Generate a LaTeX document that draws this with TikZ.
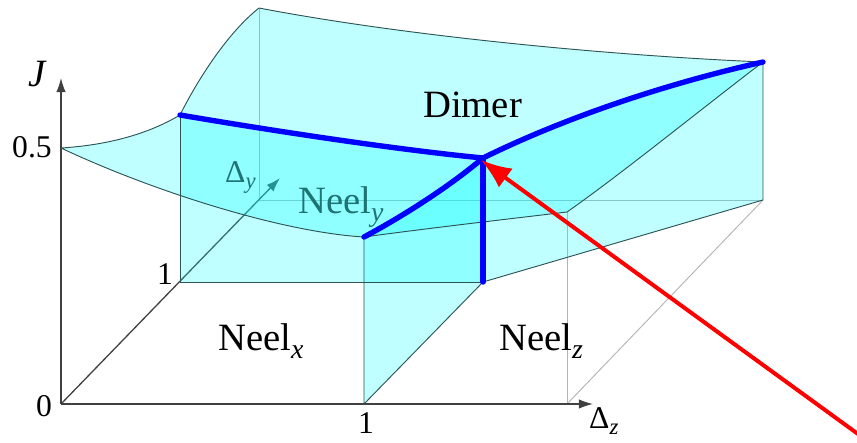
\documentclass[tikz,border=0pt]{standalone}
\usepackage{fontspec}
\setmainfont{Liberation Serif}
\usepackage{graphicx}
\usepackage{xcolor}
\usepackage{tikz}
\usetikzlibrary{arrows.meta}

\definecolor{facecol}{RGB}{0,255,255}
\definecolor{edgecol}{RGB}{45,85,85}
\definecolor{hidcol}{RGB}{180,180,180}
\definecolor{tealtxt}{RGB}{30,115,115}
\definecolor{bordercol}{RGB}{0,0,255}
\definecolor{pointcol}{RGB}{255,0,0}
\newcommand{\subidx}[1]{\raisebox{-0.22em}{\scalebox{0.72}{\itshape #1}}}

\tikzset{
  face/.style={fill=facecol,fill opacity=0.25},
  edge/.style={draw=edgecol,line width=0.8pt},
  hidden/.style={draw=hidcol,line width=0.8pt},
  axis/.style={draw=black!75,line width=1.1pt,-{Latex[length=12pt,width=8pt]}},
  border/.style={draw=bordercol,line width=4.6pt,line cap=round,line join=round},
  biglabel/.style={font=\fontsize{33}{36}\selectfont,inner sep=0pt},
  numlabel/.style={font=\fontsize{27}{30}\selectfont,inner sep=0pt},
}

\begin{document}
\begin{tikzpicture}[x=0.03cm,y=-0.03cm]
  \useasboundingbox (0,0) rectangle (857,442);
  % axis points
  \coordinate (O) at (61,404);
  \coordinate (Jtip) at (61,78);
  \coordinate (Ztip) at (593,404);
  \coordinate (Ytip) at (280,178);
  \coordinate (Y1) at (180,282);
  \coordinate (Bz1) at (364,404);
  \coordinate (Zmax) at (567,404);
  \coordinate (C11) at (483,282);
  \coordinate (Cmax) at (763,200);
  \coordinate (Yback) at (259,200);
  % surface points
  \coordinate (P0) at (61,148);
  \coordinate (P1) at (180,115);
  \coordinate (P2) at (259,8);
  \coordinate (P3) at (763,62);
  \coordinate (T) at (483,158);
  \coordinate (Q) at (364,237);
  \coordinate (R) at (567,212);

  % hidden edges
  \draw[hidden] (P2) -- (Yback) -- (Cmax);
  \draw[hidden] (Zmax) -- (R);
  \draw[hidden] (Zmax) -- (Cmax);

  % axes
  \draw[axis] (O) -- (Ytip);
  \draw[axis] (O) -- (Jtip);
  \draw[axis] (O) -- (Ztip);

  % faces
  \fill[face] (P1) .. controls (195,85) and (225,35) .. (P2)
    .. controls (400,35) and (600,55) .. (P3)
    .. controls (660,85) and (560,120) .. (T)
    .. controls (400,150) and (280,132) .. (P1) -- cycle;
  \fill[face] (P0) .. controls (110,145) and (150,133) .. (P1)
    .. controls (280,132) and (400,150) .. (T)
    .. controls (450,186) and (405,215) .. (Q)
    .. controls (280,232) and (150,190) .. (P0) -- cycle;
  \fill[face] (Q) .. controls (430,228) and (500,220) .. (R)
    .. controls (620,175) and (700,110) .. (P3)
    .. controls (660,85) and (560,120) .. (T)
    .. controls (450,186) and (405,215) .. (Q) -- cycle;
  \fill[face] (Y1) -- (P1) .. controls (280,132) and (400,150) .. (T) -- (C11) -- cycle;
  \fill[face] (Bz1) -- (Q) .. controls (405,215) and (450,186) .. (T) -- (C11) -- cycle;
  \fill[face] (C11) -- (T) .. controls (560,120) and (660,85) .. (P3) -- (Cmax) -- cycle;

  % outlines
  \draw[edge] (P0) .. controls (110,145) and (150,133) .. (P1)
    .. controls (195,85) and (225,35) .. (P2)
    .. controls (400,35) and (600,55) .. (P3) -- (Cmax) -- (C11) -- (Bz1) -- (Q)
    .. controls (280,232) and (150,190) .. (P0);
  \draw[edge] (Q) .. controls (430,228) and (500,220) .. (R)
    .. controls (620,175) and (700,110) .. (P3);
  \draw[edge] (P1) -- (Y1) -- (C11);

  % phase boundaries
  \draw[border] (P1) .. controls (280,132) and (400,150) .. (T);
  \draw[border] (Q) .. controls (405,215) and (450,186) .. (T);
  \draw[border] (T) .. controls (560,120) and (660,85) .. (P3);
  \draw[border] (T) -- (C11);

  % labels
  \node[biglabel,anchor=base west] (dimer) at (423,117) {Dimer};
  \node[biglabel,anchor=base west,text=tealtxt] (neely) at (298,213) {Neel\subidx{y}};
  \node[biglabel,anchor=base west] (neelx) at (218,350) {Neel\subidx{x}};
  \node[biglabel,anchor=base west] (neelz) at (499,350) {Neel\subidx{z}};
  \node[biglabel,anchor=base west] (jlab) at (28,86) {\itshape J};
  \node[numlabel,anchor=base east] (half) at (52,157) {0.5};
  \node[numlabel] (oney) at (165,274) {1};
  \node[numlabel] (zero) at (44,406) {0};
  \node[numlabel] (onez) at (366,423) {1};
  \node[numlabel,anchor=base west] (dz) at (589,428) {Δ\subidx{z}};
  \node[numlabel,anchor=base west,text=tealtxt] (dy) at (225,182) {Δ\subidx{y}};

  % pointer
  \coordinate (redstart) at (858,434);
  \coordinate (redtip) at (481,160);
  \draw[pointcol,line width=3.4pt,-{Latex[length=26pt,width=20pt]}] (redstart) -- (redtip);
\end{tikzpicture}
\end{document}
